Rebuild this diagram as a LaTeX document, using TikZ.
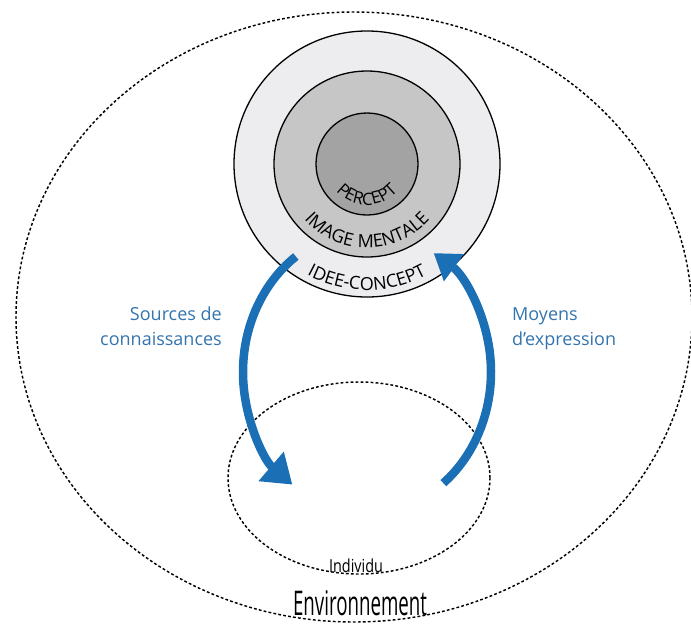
\documentclass[tikz,border=0pt]{standalone}
\usepackage{fontspec}
\newfontfamily\myr{Open Sans}
\newfontfamily\myrsp[LetterSpace=6]{Open Sans}
\usetikzlibrary{arrows.meta,decorations.text}
\definecolor{ringA}{HTML}{EDEDEF}
\definecolor{ringB}{HTML}{C6C6C6}
\definecolor{ringC}{HTML}{A3A3A3}
\definecolor{arrowblue}{HTML}{1B6FB5}
\definecolor{textblue}{HTML}{3374AE}
\newcommand\ringfont{\myrsp\fontsize{18pt}{18pt}\selectfont}
\newcommand\percfont{\myrsp\fontsize{17pt}{17pt}\selectfont}
\begin{document}
\begin{tikzpicture}[x=1pt,y=1pt,
  envline/.style={draw=black, line width=1.45pt, dash pattern=on 2.8pt off 2.2pt},
  ringline/.style={draw=black, line width=1.3pt},
  flowline/.style={draw=arrowblue, line width=8.5pt},
  bluelabel/.style={text=textblue, font=\myr\fontsize{18pt}{25pt}\selectfont},
  arctext/.style={decorate, decoration={text along path, text align=center, text={#1}}},
]
\useasboundingbox (0,0) rectangle (691,-625);
\coordinate (C) at (367,-164);
\coordinate (E) at (367,-372);
\coordinate (I) at (359,-478);
\coordinate (O) at (354,-317);
% environment
\draw[envline] (O) ellipse [x radius=338pt, y radius=305pt];
% individual
\draw[envline] (I) ellipse [x radius=131pt, y radius=96pt];
% rings
\draw[ringline, fill=ringA] (C) circle[radius=133pt];
\draw[ringline, fill=ringB] (C) circle[radius=93pt];
\draw[ringline, fill=ringC] (C) circle[radius=51pt];
% texts along rings
\path[arctext={|\percfont|PERCEPT}] (C) ++(200:41pt) arc[start angle=200, end angle=340, radius=41pt];
\path[arctext={|\ringfont|IMAGE MENTALE}] (C) ++(190:84pt) arc[start angle=190, end angle=350, radius=84pt];
\path[arctext={|\ringfont|IDEE-CONCEPT}] (C) ++(200:126pt) arc[start angle=200, end angle=340, radius=126pt];
% arrows
\draw[flowline, -{Triangle[width=37pt,length=28pt]}] (E) ++(125:124pt and 141pt) arc[start angle=125, end angle=233, x radius=124pt, y radius=141pt];
\draw[flowline, -{Triangle[width=32pt,length=25pt]}] (E) ++(-52:124pt and 141pt) arc[start angle=-52, end angle=57.5, x radius=124pt, y radius=141pt];
% labels
\node[bluelabel, anchor=base east, align=right, inner sep=0pt] (src) at (222,-345) {Sources de\\connaissances};
\node[bluelabel, anchor=base west, align=left, inner sep=0pt] (moy) at (512,-345) {Moyens\\d’expression};
\node[font=\myr\fontsize{18pt}{18pt}\selectfont, xscale=0.8, anchor=base, inner sep=0pt] (ind) at (356,-572) {Individu};
\node[font=\myr\fontsize{34pt}{34pt}\selectfont, xscale=0.55, anchor=base, inner sep=0pt] (env) at (360,-615) {Environnement};
\end{tikzpicture}
\end{document}
